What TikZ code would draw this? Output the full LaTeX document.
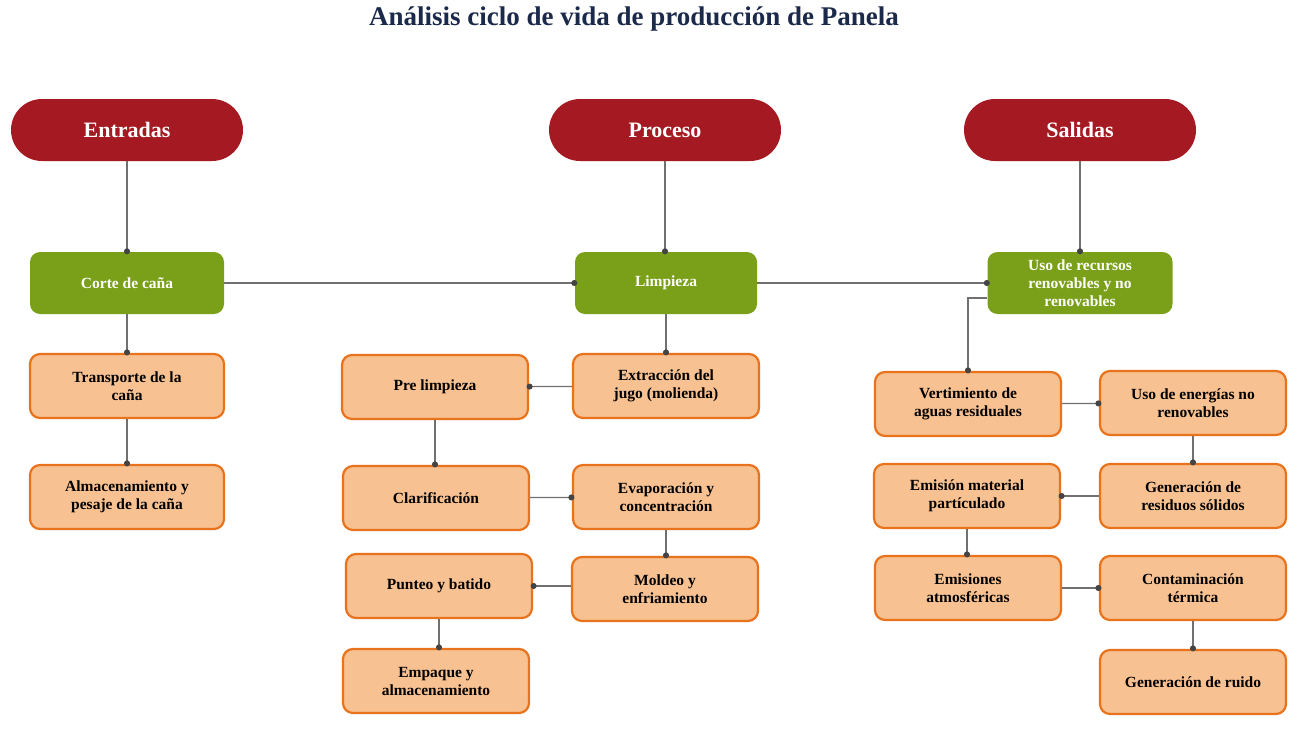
\documentclass[tikz,border=0pt]{standalone}
\usepackage{fontspec}
\setmainfont{Liberation Serif}
\usetikzlibrary{arrows.meta}
\definecolor{hdrred}{HTML}{A51A22}
\definecolor{grn}{HTML}{7AA01A}
\definecolor{orfill}{HTML}{F8C191}
\definecolor{ordraw}{HTML}{E8731C}
\definecolor{ln}{HTML}{707070}
\definecolor{dotc}{HTML}{444444}
\definecolor{titlec}{HTML}{1B2A4A}
\tikzset{
  hdr/.style={fill=hdrred, draw=none, rounded corners=31pt, minimum width=232pt, minimum height=62pt,
    text=white, font=\bfseries\fontsize{22}{25}\selectfont, inner sep=0pt},
  gbox/.style={fill=grn, draw=none, rounded corners=10pt, minimum height=62pt,
    text=white, font=\bfseries\fontsize{15.5}{18}\selectfont, align=center, inner sep=0pt},
  obox/.style={fill=orfill, draw=ordraw, line width=2.2pt, rounded corners=10pt, minimum width=186pt, minimum height=64pt,
    text=black, font=\bfseries\fontsize{15.5}{18}\selectfont, align=center, inner sep=0pt},
  conn/.style={draw=ln, line width=1.3pt, -{Circle[length=6pt,fill=dotc,color=dotc]}, shorten >=-2.5pt}
}
\begin{document}
\begin{tikzpicture}[x=1pt,y=-1pt]
\useasboundingbox (0,0) rectangle (1299,731);
\node[text=titlec, font=\bfseries\fontsize{27}{30}\selectfont] (title) at (634,19) {Análisis ciclo de vida de producción de Panela};

\node[hdr] (ent) at (127,130) {Entradas};
\node[hdr] (pro) at (665,130) {Proceso};
\node[hdr] (sal) at (1080,130) {Salidas};

\node[gbox, minimum width=194pt] (corte) at (127,283) {Corte de caña};
\node[gbox, minimum width=182pt] (limp) at (666,283) {Limpieza};
\node[gbox, minimum width=185pt] (uso) at (1080,283) {Uso de recursos\\renovables y no\\renovables};

\node[obox, minimum width=194pt] (trans) at (127,386) {Transporte de la\\caña};
\node[obox, minimum width=194pt] (alm) at (127,497) {Almacenamiento y\\pesaje de la caña};

\node[obox] (pre) at (435,387) {Pre limpieza};
\node[obox] (ext) at (666,386) {Extracción del\\jugo (molienda)};
\node[obox] (clar) at (436,498) {Clarificación};
\node[obox] (evap) at (666,497) {Evaporación y\\concentración};
\node[obox] (punt) at (439,586) {Punteo y batido};
\node[obox] (mold) at (665,589) {Moldeo y\\enfriamiento};
\node[obox] (emp) at (436,681) {Empaque y\\almacenamiento};

\node[obox] (vert) at (968,404) {Vertimiento de\\aguas residuales};
\node[obox] (ener) at (1193,403) {Uso de energías no\\renovables};
\node[obox] (emis) at (967,496) {Emisión material\\partículado};
\node[obox] (resid) at (1193,496) {Generación de\\residuos sólidos};
\node[obox] (atm) at (968,588) {Emisiones\\atmosféricas};
\node[obox] (term) at (1193,588) {Contaminación\\térmica};
\node[obox] (ruido) at (1193,682) {Generación de ruido};

\draw[conn] (ent) -- (corte);
\draw[conn] (pro) -- (limp.north -| pro);
\draw[conn] (sal) -- (uso);
\draw[conn] (corte) -- (limp);
\draw[conn] (limp) -- (uso);
\draw[conn] (corte) -- (trans);
\draw[conn] (trans) -- (alm);
\draw[conn] (limp) -- (ext);
\draw[conn] (ext) -- (pre);
\draw[conn] (pre) -- (clar.north -| pre);
\draw[conn] (clar) -- (evap);
\draw[conn] (evap) -- (mold.north -| evap);
\draw[conn] (mold.west |- punt.east) -- (punt);
\draw[conn] (punt.south) -- (punt.south |- emp.north);
\draw[conn] ([yshift=-15pt]uso.west) -| (vert.north);
\draw[conn] (vert) -- (ener);
\draw[conn] (ener) -- (resid);
\draw[conn] (resid) -- (emis);
\draw[conn] (emis) -- (atm.north -| emis);
\draw[conn] (atm) -- (term);
\draw[conn] (term) -- (ruido);
\end{tikzpicture}
\end{document}
